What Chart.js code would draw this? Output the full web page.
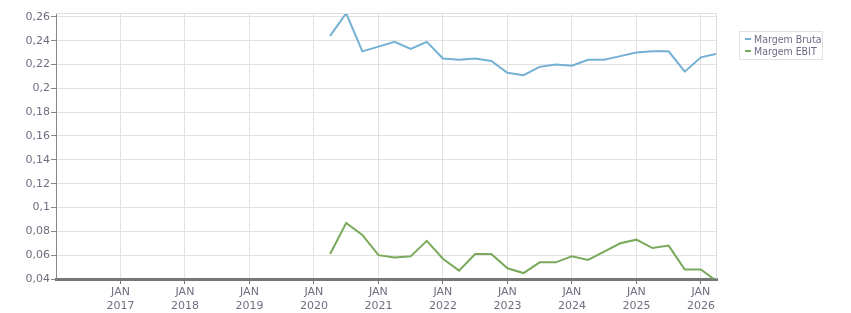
<!DOCTYPE html>
<html>
<head>
<meta charset="utf-8">
<script src="https://cdn.jsdelivr.net/npm/chart.js@4/dist/chart.umd.min.js"></script>
<style>
  html, body { margin: 0; padding: 0; background: #fff; }
  #wrap { position: relative; width: 851px; height: 313px; }
  #legend {
    position: absolute; left: 739px; top: 31px; width: 82px; height: 26px;
    border: 1px solid #e2e2e2; padding: 1px 0 0 0;
    font: 10.5px "DejaVu Sans Condensed", "DejaVu Sans", sans-serif; color: #6c6c88; line-height: 12px;
  }
  #legend div { white-space: nowrap; padding-left: 5px; }
  #legend span { display: inline-block; width: 6px; height: 2px; margin-right: 3px; vertical-align: 3px; }
</style>
</head>
<body>
<div id="wrap">
  <canvas id="c" width="851" height="313"></canvas>
  <div id="legend"></div>
</div>
<script>
// quarter ends (year-month), Q1 2020 .. Q1 2026
const periods = ['2020-03','2020-06','2020-09','2020-12',
  '2021-03','2021-06','2021-09','2021-12',
  '2022-03','2022-06','2022-09','2022-12',
  '2023-03','2023-06','2023-09','2023-12',
  '2024-03','2024-06','2024-09','2024-12',
  '2025-03','2025-06','2025-09','2025-12',
  '2026-03'];
const margemBruta = [0.244, 0.263, 0.231, 0.235, 0.239, 0.233, 0.239, 0.225,
  0.224, 0.225, 0.223, 0.213, 0.211, 0.218, 0.220, 0.219,
  0.224, 0.224, 0.227, 0.230, 0.231, 0.231, 0.214, 0.226, 0.229];
const margemEbit = [0.061, 0.087, 0.077, 0.060, 0.058, 0.059, 0.072, 0.057,
  0.047, 0.061, 0.061, 0.049, 0.045, 0.054, 0.054, 0.059,
  0.056, 0.063, 0.070, 0.073, 0.066, 0.068, 0.048, 0.048, 0.038];
const yTicks = [0.04, 0.06, 0.08, 0.1, 0.12, 0.14, 0.16, 0.18, 0.2, 0.22, 0.24, 0.26];
const xYears = [2017, 2018, 2019, 2020, 2021, 2022, 2023, 2024, 2025, 2026];

const series = [
  {label: 'Margem Bruta', data: margemBruta, color: '#74b0d3'},
  {label: 'Margem EBIT', data: margemEbit, color: '#79a95b'}
];

const toX = p => { const [y, m] = p.split('-').map(Number); return y + m / 12; };

const textColor = '#6e6e80';
const font = {family: '"DejaVu Sans", Verdana, sans-serif', size: 11};

const frame = {
  id: 'frame',
  afterDatasetsDraw(chart) {
    const a = chart.chartArea, ctx = chart.ctx;
    ctx.save();
    ctx.strokeStyle = '#dedede';
    ctx.lineWidth = 1;
    ctx.beginPath();
    ctx.moveTo(a.left, a.top + 0.5);
    ctx.lineTo(a.right - 0.5, a.top + 0.5);
    ctx.lineTo(a.right - 0.5, a.bottom);
    ctx.stroke();
    ctx.restore();
  }
};

new Chart(document.getElementById('c'), {
  type: 'line',
  data: {
    datasets: series.map(s => ({
      label: s.label,
      data: s.data.map((v, i) => ({x: toX(periods[i]), y: v})),
      borderColor: s.color, backgroundColor: s.color,
      borderWidth: 2, pointRadius: 0, tension: 0, fill: false
    }))
  },
  options: {
    responsive: false, animation: false,
    layout: {padding: {top: 13, right: 134, left: 0, bottom: 0}},
    scales: {
      x: {
        type: 'linear', min: 2016, max: toX(periods[periods.length - 1]),
        afterBuildTicks: s => { s.ticks = xYears.map(v => ({value: v})); },
        afterFit: s => { s.height = 34; },
        grid: {color: '#e2e2e2', tickColor: '#777', tickLength: 5, lineWidth: 1},
        border: {color: '#777', width: 3},
        ticks: {color: textColor, font, padding: 2, maxRotation: 0, callback: v => ['JAN', String(v)]}
      },
      y: {
        min: 0.04, max: 0.2632,
        afterBuildTicks: s => { s.ticks = yTicks.map(v => ({value: v})); },
        afterFit: s => { s.width = 56; },
        grid: {color: '#e2e2e2', tickColor: '#888', tickLength: 5, lineWidth: 1},
        border: {color: '#888', width: 1},
        ticks: {color: textColor, font, padding: 1, callback: v => String(+v.toFixed(2)).replace('.', ',')}
      }
    },
    plugins: {legend: {display: false}, tooltip: {enabled: false}}
  },
  plugins: [frame]
});

document.getElementById('legend').innerHTML = series.map(s =>
  `<div><span style="background:${s.color}"></span>${s.label}</div>`).join('');
</script>
</body>
</html>
